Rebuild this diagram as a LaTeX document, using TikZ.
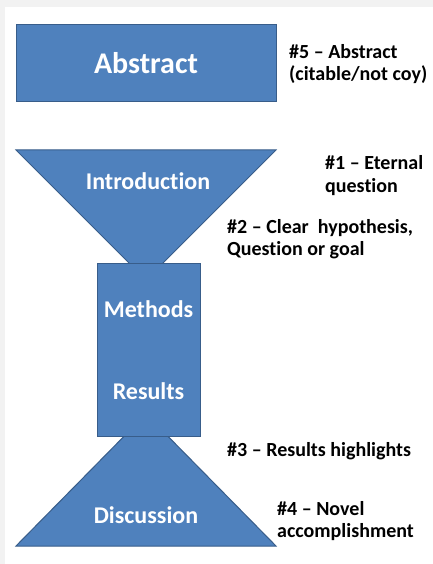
\documentclass[tikz,border=0pt]{standalone}
\usepackage{fontspec}
\setmainfont{Carlito}[Ligatures=NoCommon]
\usepackage{xcolor}
\definecolor{part-fill}{RGB}{79,129,189}
\definecolor{part-edge}{RGB}{56,93,138}
\definecolor{page-edge}{RGB}{242,242,242}

\begin{document}
\begin{tikzpicture}[x=1pt, y=-1pt,
    part/.style={draw=part-edge, fill=part-fill, line width=1pt},
    partlabel/.style={anchor=base, text=white, font=\fontsize{24}{28}\selectfont\bfseries, inner sep=0pt},
    note/.style={anchor=base west, align=left, font=\fontsize{20}{22}\selectfont\bfseries, inner sep=0pt}]

    % Page with a thin grey margin top and left
    \fill[page-edge] (0,0) rectangle (433,564);
    \fill[white] (5,7) rectangle (433,564);
    \useasboundingbox (0,0) rectangle (433,564);

    % Abstract box
    \node[part, minimum width=260pt, minimum height=77pt, inner sep=0pt] (abstract) at (146,63.5) {};
    \node[partlabel, font=\fontsize{30}{34}\selectfont\bfseries] (abstractlbl) at (146,74) {Abstract};

    % Funnel: introduction narrows, discussion widens
    \draw[part] (16,150) -- (276,150) -- (146,280) -- cycle;
    \draw[part] (146,414) -- (276,546) -- (16,546) -- cycle;

    % Body box on top of both triangles
    \node[part, minimum width=103pt, minimum height=173pt, inner sep=0pt] (body) at (148.5,349.5) {};

    % Labels inside the shapes
    \node[partlabel] (intro) at (148,189) {Introduction};
    \node[partlabel] (methods) at (148.5,317) {Methods};
    \node[partlabel] (results) at (148.5,399) {Results};
    \node[partlabel] (discussion) at (146,523) {Discussion};

    % Notes on the right (base = last line)
    \node[note] (n5) at (289,81) {\#5 -- Abstract\\(citable/not coy)};
    \node[note] (n1) at (325,192) {\#1 -- Eternal\\question};
    \node[note] (n2) at (227,255) {\#2 -- Clear\ \ hypothesis,\\Question or goal};
    \node[note] (n3) at (227,456) {\#3 -- Results highlights};
    \node[note] (n4) at (277,537) {\#4 -- Novel\\accomplishment};
\end{tikzpicture}
\end{document}
